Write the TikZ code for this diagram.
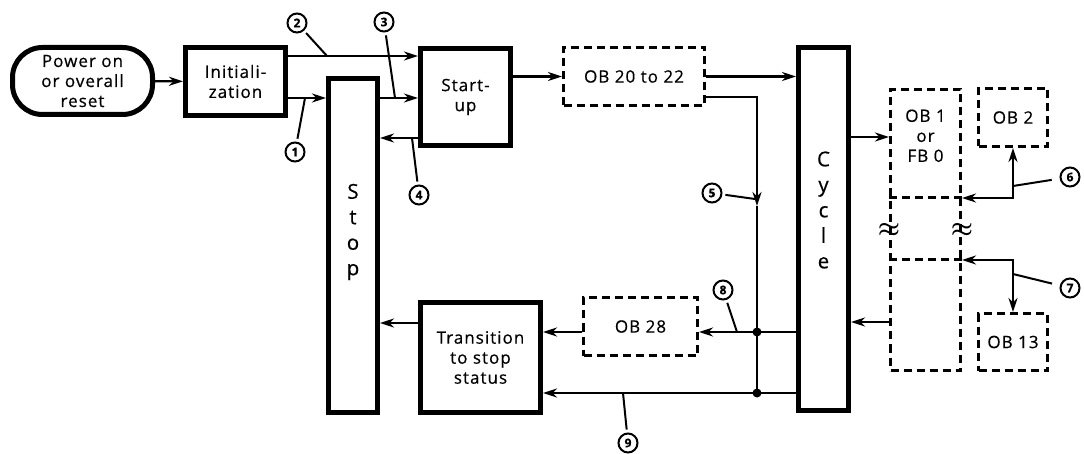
\documentclass[tikz,border=0pt]{standalone}
\usepackage{fontspec}
\setmainfont{Open Sans}[LetterSpace=6, FakeBold=0.5]
\usetikzlibrary{arrows.meta,positioning}

\begin{document}
\begin{tikzpicture}[x=1pt,y=-1pt,font=\fontsize{17}{20}\selectfont,box/.style={draw=black, line width=5pt, fill=white, align=center, inner sep=0pt},dbox/.style={draw=black, line width=3pt, dash pattern=on 8pt off 5pt, align=center, inner sep=0pt},sepline/.style={line width=3pt, dash pattern=on 8pt off 5pt},conn/.style={line width=2.3pt, -{Stealth[length=14pt,width=9pt]}},both/.style={line width=2.3pt, {Stealth[length=14pt,width=9pt]}-{Stealth[length=14pt,width=9pt]}},plain/.style={line width=2.3pt},lead/.style={line width=2pt, shorten <=3pt},num/.style={circle, draw=black, line width=2pt, minimum size=19pt, inner sep=0pt, font=\fontsize{12}{12}\selectfont\bfseries},dot/.style={circle, fill=black, minimum size=9pt, inner sep=0pt},letters/.style={align=center, font=\fontsize{20.5}{25.5}\selectfont},wave/.style={font=\fontsize{30}{30}\selectfont\boldmath, inner sep=0pt}]
\useasboundingbox (0,0) rectangle (1084,454);
\node[box, rounded corners=30pt, minimum width=140pt, minimum height=67pt] (power) at (82.5,81) {Power on\\or overall\\reset};\node[box, minimum width=100pt, minimum height=68pt] (init) at (235.5,81.5) {Initiali-\\zation};\node[box, minimum width=49pt, minimum height=334pt] (stop) at (353,245.5) {};\node[box, minimum width=90pt, minimum height=97pt] (startup) at (465.5,97) {Start-\\up};\node[dbox, minimum width=141pt, minimum height=58pt] (ob20) at (634,76.5) {OB 20 to 22};\node[box, minimum width=50pt, minimum height=363pt] (cycle) at (823.5,229) {};
\node[dbox, minimum width=70pt, minimum height=281pt] (ob1) at (925.5,230) {};\node[dbox, minimum width=69pt, minimum height=58pt] (ob2) at (1013,117.5) {OB 2};\node[dbox, minimum width=69pt, minimum height=57pt] (ob13) at (1013,342) {OB 13};\node[dbox, minimum width=114pt, minimum height=58pt] (ob28) at (640.5,326.5) {OB 28};\node[box, minimum width=120pt, minimum height=110pt] (trans) at (480.5,357.5) {Transition\\to stop\\status};
\node[letters] (stoptxt) at ([yshift=13.5pt]stop.center) {S\\t\\o\\p};\node[letters] (cycletxt) at ([yshift=19pt]cycle.center) {C\\y\\c\\l\\e};\node[below=18pt of ob1.north, align=center] (ob1txt) {OB 1\\or\\FB 0};
\coordinate (r2) at (0,56);\coordinate (r1) at (0,98);\coordinate (r4) at (0,138);\coordinate (r23) at (0,323);\coordinate (rout) at (0,137);\coordinate (rback) at (0,322);\coordinate (s6) at (0,198);\coordinate (s7) at (0,260);\coordinate (rw) at (0,230);\coordinate (bend5) at (757,97);\coordinate (tip5) at (757,206);
\node[dot] (d8) at (757,332) {};\node[dot] (d9) at (757,393) {};
\draw[conn] (power) -- (init);\draw[conn] (init.east |- r2) -- (startup.west |- r2);\draw[conn] (init.east |- r1) -- (stop.west |- r1);\draw[conn] (stop.east |- r1) -- (startup.west |- r1);\draw[conn] (startup.west |- r4) -- (stop.east |- r4);\draw[conn] (startup.east |- ob20.west) -- (ob20.west);\draw[conn] (ob20.east) -- (cycle.west |- ob20.east);
\draw[conn] (ob20.east |- bend5) -- (bend5) -- (tip5);\draw[plain] (tip5) -- (d9.center);\draw[conn] (cycle.west |- d8) -- (ob28.east |- d8);\draw[conn] (ob28.west |- d8) -- (trans.east |- d8);\draw[conn] (cycle.west |- d9) -- (trans.east |- d9);\draw[conn] (trans.west |- r23) -- (stop.east |- r23);
\draw[conn] (cycle.east |- rout) -- (ob1.west |- rout);\draw[conn] (ob1.west |- rback) -- (cycle.east |- rback);\draw[sepline] (ob1.west |- s6) -- (ob1.east |- s6);\draw[sepline] (ob1.west |- s7) -- (ob1.east |- s7);\draw[both] (ob1.east |- s6) -| (ob2.south);\draw[both] (ob1.east |- s7) -| (ob13.north);
\node[wave] (w1) at (ob1.west |- rw) {$\approx$};\node[wave] (w2) at (ob1.east |- rw) {$\approx$};
\node[num] (n1) at (295,152) {1};\node[num] (n2) at (297,23) {2};\node[num] (n3) at (384,22) {3};\node[num] (n4) at (419,195) {4};\node[num] (n5) at (712,193) {5};\node[num] (n6) at (1070,177) {6};\node[num] (n7) at (1070,288) {7};\node[num] (n8) at (723,290) {8};\node[num] (n9) at (628,443) {9};
\coordinate (t1) at (305,98);\coordinate (t2) at (327,56);\coordinate (t3) at (395,98);\coordinate (t4) at (412,138);\coordinate (t5) at (755,199);\coordinate (t6) at (1013,186);\coordinate (t7) at (1013,274);\coordinate (t8) at (737,332);\coordinate (t9) at (623,393);
\draw[lead] (n1) -- (t1);\draw[lead] (n2) -- (t2);\draw[lead] (n3) -- (t3);\draw[lead] (n4) -- (t4);\draw[lead] (n5) -- (t5);\draw[lead, shorten <=8pt] (n6) -- (t6);\draw[lead, shorten <=8pt] (n7) -- (t7);\draw[lead] (n8) -- (t8);\draw[lead] (n9) -- (t9);
\end{tikzpicture}
\end{document}
